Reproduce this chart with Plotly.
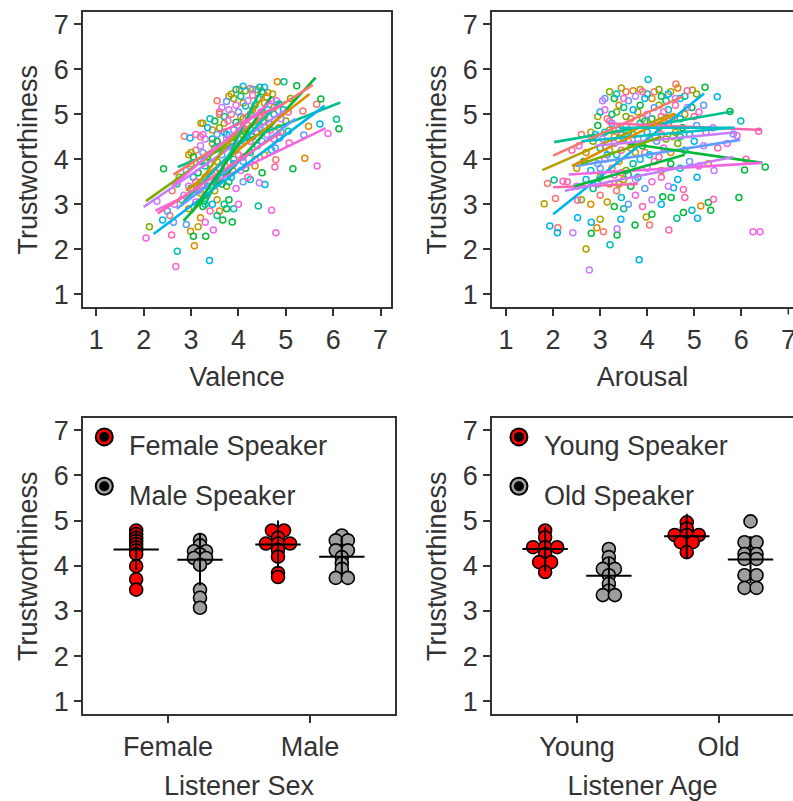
import plotly.graph_objects as go

# ---------------- DATA ----------------
PALETTE = ["#F8766D", "#DE8C00", "#B79F00", "#7CAE00", "#00BA38", "#00C08B",
           "#00BFC4", "#00B4F0", "#619CFF", "#C77CFF", "#F564E3", "#FF64B0"]

# (valence, trustworthiness, speaker group)
valence_points = [
    (4.02,5.55,1),(4.25,5.57,0),(4.38,5.55,2),(4.50,5.50,4),(4.45,5.60,6),(4.15,5.52,3),
    (3.85,5.45,2),(4.62,5.48,1),(4.82,5.72,1),(4.96,5.72,5),(5.23,5.63,4),(4.10,5.62,7),
    (3.55,5.30,0),(3.75,5.28,8),(3.90,5.35,3),(4.05,5.40,5),(4.20,5.30,9),(4.30,5.42,11),
    (4.42,5.35,6),(4.55,5.25,2),(4.70,5.30,8),(4.85,5.22,4),(3.95,5.20,10),(4.15,5.18,7),
    (4.60,5.38,0),(5.10,5.35,3),(3.65,5.15,9),(4.35,5.20,5),(4.72,5.45,2),(3.80,5.40,1),
    (5.05,5.05,11),(3.25,4.80,2),(3.50,4.85,4),(3.70,4.95,5),(3.85,5.00,0),(4.00,5.05,8),
    (4.10,4.90,3),(4.25,5.00,6),(4.40,4.85,10),(4.55,4.95,1),(4.75,5.00,7),(4.90,4.90,9),
    (3.60,5.05,11),(3.95,4.82,4),(4.30,5.10,2),(4.65,4.80,5),(3.40,4.90,6),(4.05,4.95,0),
    (3.78,4.85,10),(5.00,4.85,3),(3.10,4.55,11),(3.20,4.50,0),(3.25,4.55,10),(3.30,4.45,9),
    (3.45,4.65,1),(3.60,4.70,3),(3.75,4.55,6),(3.90,4.65,8),(4.00,4.45,2),(4.15,4.60,4),
    (4.30,4.50,5),(4.45,4.70,7),(4.60,4.55,9),(4.75,4.45,11),(4.90,4.60,0),(3.55,4.40,4),
    (4.20,4.75,1),(3.85,4.40,5),(4.50,4.40,8),(3.35,4.70,7),(3.70,4.80,2),(2.95,4.10,1),
    (3.00,4.15,2),(3.10,4.20,0),(3.20,4.30,9),(3.35,4.05,4),(3.50,4.25,6),(3.65,4.10,8),
    (3.80,4.30,11),(3.95,4.20,3),(4.10,4.05,10),(4.25,4.15,5),(4.40,4.30,7),(4.55,4.10,2),
    (4.70,4.20,6),(3.45,4.35,1),(3.05,4.05,4),(4.05,4.35,9),(4.35,4.00,0),(3.25,4.15,8),
    (3.90,4.00,5),(2.75,3.60,3),(2.90,3.75,8),(3.00,3.90,2),(3.15,3.70,4),(3.30,3.85,6),
    (3.45,3.65,0),(3.60,3.80,10),(3.75,3.70,5),(3.90,3.90,7),(4.05,3.75,9),(4.20,3.60,11),
    (4.35,3.85,1),(4.50,3.70,4),(3.55,3.95,3),(4.10,3.95,8),(3.85,3.60,6),(2.60,3.30,0),
    (2.70,3.45,5),(2.85,3.20,9),(3.00,3.35,4),(3.10,3.50,11),(3.20,3.25,1),(3.35,3.40,7),
    (3.50,3.30,2),(3.65,3.45,4),(3.80,3.50,5),(3.95,3.35,10),(4.10,3.50,8),(3.75,3.40,3),
    (4.25,3.55,6),(3.30,3.20,0),(2.50,2.85,8),(2.65,3.00,9),(2.80,3.10,3),(2.95,2.90,1),
    (3.10,3.05,10),(3.25,2.95,4),(3.40,2.85,11),(3.55,3.10,2),(3.70,3.00,5),(3.80,3.10,4),
    (3.45,3.00,7),(3.90,2.90,6),(3.60,2.85,1),(4.00,3.00,10),(2.40,2.65,7),(2.55,2.75,0),
    (3.20,2.70,1),(3.30,2.60,10),(3.55,2.75,5),(3.75,2.90,4),(3.15,2.50,2),(2.90,2.55,8),
    (3.60,5.00,1),(3.70,4.60,7),(3.80,5.10,9),(3.95,5.55,5),(4.10,5.25,2),(4.20,4.95,11),
    (4.35,4.75,3),(4.48,5.05,0),(4.62,5.10,6),(4.80,5.30,10),(3.45,4.45,5),(3.55,4.55,8),
    (3.65,4.30,2),(3.75,4.45,9),(3.90,4.50,0),(4.00,4.75,6),(4.12,4.40,1),(4.25,4.40,10),
    (4.38,4.60,4),(4.52,4.85,3),(4.68,4.65,11),(3.30,3.60,1),(3.40,3.90,2),(3.50,3.50,9),
    (3.62,3.60,7),(3.72,3.85,0),(3.88,3.75,3),(4.00,4.10,11),(4.15,3.80,4),(3.20,3.95,5),
    (3.05,3.60,6),(2.95,3.40,10),(3.15,3.30,8),(3.30,3.00,5),(3.50,3.70,11),(4.30,5.55,8),
    (4.55,5.60,7),(4.75,5.15,1),(4.85,4.70,2),(4.95,5.10,6),
    (2.05,2.25,10),(2.12,2.50,3),(2.42,3.79,4),(2.28,3.07,9),(2.63,2.60,8),(2.71,1.96,6),
    (2.68,1.62,10),(2.59,2.32,11),(2.86,4.51,0),(2.98,4.47,7),(3.21,4.80,2),(2.99,2.40,1),
    (3.05,2.29,4),(3.07,2.08,1),(3.31,2.29,4),(3.39,1.75,7),(3.47,2.43,10),(3.67,2.65,4),
    (3.87,2.61,4),(4.42,2.96,5),(4.70,2.87,10),(4.79,2.37,10),(4.77,3.83,11),(4.56,3.44,7),
    (4.44,3.48,9),(5.15,3.79,4),(5.40,4.02,1),(5.66,3.85,10),(5.38,4.54,8),(5.48,4.73,1),
    (5.72,4.78,7),(5.89,4.57,10),(6.07,4.89,5),(6.12,4.68,4),(5.74,5.34,4),(5.65,5.22,0),
    (5.36,5.07,0),(5.05,4.62,5),(5.07,4.36,11),(4.87,4.47,8),(4.78,4.25,8),(4.79,3.99,0),
]

# (x0, y0, x1, y1, group) for the per-speaker fitted lines, valence panel
valence_lines = [
    (2.84,2.63,5.63,5.81,4),(2.72,3.83,6.15,5.26,5),(2.05,3.07,5.00,5.28,3),
    (2.00,2.94,5.00,5.10,9),(2.25,2.86,5.84,4.69,10),(2.21,2.34,5.82,5.19,7),
    (2.63,3.66,5.57,5.65,0),(2.90,3.30,5.50,5.45,1),(2.90,3.10,4.60,5.50,2),
    (2.80,3.00,4.90,5.30,6),(2.70,2.90,5.20,4.90,8),(2.30,2.80,4.90,4.60,11),
    (3.30,3.00,4.50,5.60,5),(3.00,2.80,4.70,5.40,4),(3.60,4.60,4.90,5.20,11),
    (2.60,3.40,4.70,5.30,10),
]

# (arousal, trustworthiness, speaker group)
arousal_points = [
    (3.05,5.30,9),(3.10,5.35,8),(3.45,5.58,2),(3.55,5.50,0),(3.70,5.52,1),(3.85,5.55,2),
    (4.00,5.45,6),(4.15,5.50,0),(4.30,5.40,4),(4.50,5.50,2),(4.65,5.58,1),(4.85,5.52,11),
    (3.30,5.35,4),(3.95,5.35,7),(4.40,5.30,5),(3.60,5.30,8),(5.05,5.45,3),(4.70,5.35,6),
    (2.95,4.95,2),(3.10,5.10,10),(3.25,5.00,5),(3.40,5.20,1),(3.55,4.95,3),(3.70,5.10,7),
    (3.85,5.20,4),(4.00,5.00,9),(4.15,5.15,8),(4.30,4.95,0),(4.45,5.10,6),(4.60,5.20,11),
    (4.80,5.00,2),(4.95,5.15,4),(5.10,5.05,10),(3.50,5.15,5),(3.90,4.90,1),(4.25,5.20,3),
    (4.70,4.90,7),(5.20,5.20,8),(3.15,4.90,0),(2.60,4.55,0),(2.80,4.60,2),(2.95,4.75,4),
    (3.10,4.60,6),(3.25,4.80,8),(3.40,4.65,10),(3.55,4.75,1),(3.70,4.55,3),(3.85,4.80,5),
    (4.00,4.60,7),(4.15,4.75,9),(4.30,4.55,11),(4.45,4.80,0),(4.60,4.60,2),(4.75,4.70,4),
    (4.90,4.55,6),(5.05,4.75,8),(5.25,4.60,10),(5.40,4.70,9),(3.30,4.50,1),(3.95,4.85,5),
    (4.55,4.50,3),(2.40,4.20,11),(2.55,4.30,10),(2.70,4.15,1),(2.85,4.40,3),(3.00,4.25,5),
    (3.15,4.10,7),(3.30,4.35,9),(3.45,4.20,11),(3.60,4.40,0),(3.75,4.15,2),(3.90,4.30,4),
    (4.05,4.10,6),(4.20,4.40,8),(4.35,4.25,10),(4.50,4.15,1),(4.65,4.35,3),(4.80,4.20,5),
    (5.00,4.40,7),(5.20,4.30,9),(5.50,4.25,11),(5.70,4.35,10),(3.50,4.45,6),(2.50,3.80,2),
    (2.65,3.95,4),(2.80,3.75,6),(2.95,3.90,8),(3.10,4.00,10),(3.25,3.80,0),(3.40,3.95,1),
    (3.55,3.75,3),(3.70,3.90,5),(3.85,4.00,7),(4.00,3.80,9),(4.15,3.95,11),(4.30,3.75,2),
    (4.50,3.90,4),(4.70,3.80,6),(4.90,3.95,8),(5.10,3.85,10),(3.45,3.70,0),(2.30,3.50,11),
    (2.50,3.40,9),(2.70,3.55,7),(2.85,3.35,5),(3.00,3.60,3),(3.20,3.45,1),(3.35,3.30,0),
    (3.50,3.55,2),(3.65,3.40,4),(3.80,3.60,6),(3.95,3.35,8),(4.10,3.50,10),(4.30,3.60,11),
    (4.45,3.40,9),(4.65,3.55,7),(3.60,3.65,5),(2.60,3.10,3),(2.80,3.00,1),(3.00,3.20,0),
    (3.15,3.05,2),(3.30,2.95,4),(3.45,3.15,6),(3.60,3.00,8),(3.75,3.20,10),(3.90,2.95,11),
    (4.10,3.10,9),(4.30,3.00,7),(3.50,2.90,5),
    (3.20,5.50,3),(3.35,5.45,6),(3.50,5.35,10),(3.75,5.40,9),(3.90,5.50,11),(4.10,5.35,1),
    (4.25,5.55,3),(4.45,5.45,7),(4.60,5.35,9),(4.80,5.40,5),(3.00,5.05,7),(3.20,4.85,11),
    (3.35,5.05,3),(3.65,4.90,0),(3.80,5.05,2),(4.10,4.90,4),(4.35,5.05,10),(4.55,4.95,1),
    (4.85,5.15,9),(5.00,4.95,11),(2.90,4.55,7),(3.05,4.45,9),(3.20,4.65,2),(3.45,4.55,4),
    (3.60,4.60,6),(3.80,4.45,8),(4.05,4.50,0),(4.25,4.70,1),(4.40,4.45,3),(4.70,4.50,5),
    (3.00,3.80,8),(3.20,4.20,3),(3.35,4.10,6),(3.65,4.25,1),(3.95,4.15,0),(4.25,4.05,11),
    (3.30,3.65,10),(3.75,3.55,9),(2.95,3.45,6),(3.40,3.45,2),
    (1.81,3.01,2),(1.88,3.46,0),(1.93,2.52,7),(2.09,2.37,7),(2.02,3.54,5),(2.05,3.13,0),
    (2.10,2.48,0),(2.21,3.51,11),(2.42,2.37,9),(2.52,2.70,7),(2.52,3.09,11),(2.70,2.01,2),
    (2.77,1.54,9),(2.81,2.36,4),(2.81,2.60,7),(2.93,2.48,1),(3.00,2.67,2),(3.07,2.39,0),
    (3.21,2.10,6),(3.36,2.32,4),(3.36,2.46,9),(3.44,2.67,7),(3.74,2.54,4),(3.83,1.77,7),
    (3.98,2.72,2),(4.05,2.54,0),(4.10,2.78,4),(4.33,3.17,4),(4.46,2.43,11),(4.51,3.15,4),
    (4.56,3.37,7),(4.63,2.69,5),(4.77,3.33,11),(4.80,3.15,11),(4.77,2.82,4),(4.95,2.87,6),
    (5.07,2.69,7),(5.06,3.60,7),(5.14,2.96,1),(5.30,3.90,1),(5.42,3.75,9),(5.41,3.11,11),
    (5.30,3.04,4),(5.35,2.87,4),(5.49,5.39,7),(5.23,5.60,4),(5.76,5.06,4),(5.83,4.56,8),
    (5.91,4.52,10),(5.99,4.85,6),(5.95,3.15,4),(6.07,3.76,4),(6.10,4.00,11),(6.25,2.39,10),
    (6.40,2.39,10),(6.37,4.62,11),(6.51,3.83,4),(4.02,5.77,6),(4.61,5.67,0),(4.96,5.54,2),
]

arousal_lines = [
    (2.02,4.38,5.81,5.06,5),(2.00,4.08,4.75,5.39,0),(1.77,3.76,4.47,4.99,2),
    (2.00,2.78,5.21,5.46,7),(3.18,4.80,6.44,4.65,11),(2.48,3.85,5.98,4.43,8),
    (3.60,4.35,6.45,3.92,4),(2.33,3.66,6.44,3.92,10),(2.00,3.38,3.80,3.45,11),
    (2.25,3.30,5.83,4.05,9),(2.45,3.40,4.80,4.10,4),(2.60,4.40,5.80,4.70,6),
    (2.40,3.85,4.60,5.00,1),(2.90,4.30,5.90,4.60,9),(2.60,3.90,4.30,4.50,3),
    (3.40,4.70,5.86,4.70,6),
]

# Bottom panels: individual listener means (dot plots)
sex_categories = ["Female", "Male"]
sex_female_speaker = [
    [4.78, 4.70, 4.62, 4.55, 4.48, 4.41, 4.34, 4.26, 3.99, 3.70, 3.47],
    [4.78, 4.78, 4.62, 4.49, 4.49, 4.49, 4.35, 4.20, 3.84, 3.75],
]
sex_male_speaker = [
    [4.57, 4.45, 4.32, 4.32, 4.25, 4.17, 4.17, 4.02, 3.47, 3.29, 3.07],
    [4.67, 4.56, 4.56, 4.34, 4.34, 4.19, 4.05, 3.93, 3.73, 3.73],
]
sex_means_female_speaker = [4.36, 4.47]
sex_err_female_speaker = [0.45, 0.53]
sex_means_male_speaker = [4.13, 4.20]
sex_err_male_speaker = [0.57, 0.45]

age_categories = ["Young", "Old"]
age_young_speaker = [
    [4.78, 4.63, 4.41, 4.41, 4.41, 4.26, 4.08, 4.08, 3.86],
    [4.96, 4.82, 4.68, 4.68, 4.68, 4.52, 4.52, 4.30],
]
age_old_speaker = [
    [4.37, 4.19, 4.05, 3.93, 3.93, 3.79, 3.60, 3.45, 3.35, 3.35],
    [4.98, 4.52, 4.52, 4.26, 4.26, 4.15, 4.15, 3.79, 3.79, 3.51, 3.51],
]
age_means_young_speaker = [4.37, 4.65]
age_err_young_speaker = [0.50, 0.50]
age_means_old_speaker = [3.78, 4.14]
age_err_old_speaker = [0.40, 0.52]

sex_legend = ["Female Speaker", "Male Speaker"]
age_legend = ["Young Speaker", "Old Speaker"]
y_ticks = [1, 2, 3, 4, 5, 6, 7]

# ---------------- STYLE ----------------
W, H = 793, 801
FONT = "Liberation Sans, Arial, Helvetica, sans-serif"
TXT = "#333333"
AX = "#333333"
RED = "#FF0000"
GREY = "#9E9E9E"
FS = 27

def px_x(a, b):
    return [a / W, b / W]

def px_y(top, bottom):
    return [1 - bottom / H, 1 - top / H]

fig = go.Figure()

def add_scatter_panel(points, lines, xa, ya):
    groups = sorted(set(p[2] for p in points))
    for g in groups:
        xs = [p[0] for p in points if p[2] == g]
        ys = [p[1] for p in points if p[2] == g]
        fig.add_trace(go.Scatter(
            x=xs, y=ys, mode="markers", xaxis=xa, yaxis=ya, showlegend=False,
            marker=dict(symbol="circle-open", size=6, color=PALETTE[g],
                        line=dict(width=1.5, color=PALETTE[g])),
            hoverinfo="skip"))
    for (x0, y0, x1, y1, g) in lines:
        fig.add_trace(go.Scatter(
            x=[x0, x1], y=[y0, y1], mode="lines", xaxis=xa, yaxis=ya,
            showlegend=False, line=dict(color=PALETTE[g], width=2.6),
            hoverinfo="skip"))

add_scatter_panel(valence_points, valence_lines, "x", "y")
add_scatter_panel(arousal_points, arousal_lines, "x2", "y2")

DODGE = 0.225
DOT_W = 0.085
HALF_MEAN = 0.16

def stack_offsets(vals):
    counts = {}
    for v in vals:
        counts[v] = counts.get(v, 0) + 1
    seen = {}
    offs = []
    for v in vals:
        k = seen.get(v, 0)
        seen[v] = k + 1
        n = counts[v]
        offs.append((k - (n - 1) / 2) * DOT_W)
    return offs

def add_dot_panel(first, second, m1, e1, m2, e2, xa, ya):
    for series, color, shift in ((first, RED, -DODGE), (second, GREY, DODGE)):
        xs, ys = [], []
        for ci, vals in enumerate(series):
            offs = stack_offsets(vals)
            for v, o in zip(vals, offs):
                xs.append(ci + 1 + shift + o)
                ys.append(v)
        fig.add_trace(go.Scatter(
            x=xs, y=ys, mode="markers", xaxis=xa, yaxis=ya, showlegend=False,
            marker=dict(symbol="circle", size=13, color=color,
                        line=dict(width=1.6, color="black")),
            hoverinfo="skip"))
    for means, errs, shift in ((m1, e1, -DODGE), (m2, e2, DODGE)):
        lx, ly = [], []
        for ci, (m, e) in enumerate(zip(means, errs)):
            c = ci + 1 + shift
            lx += [c - HALF_MEAN, c + HALF_MEAN, None, c, c, None]
            ly += [m, m, None, m - e, m + e, None]
        fig.add_trace(go.Scatter(
            x=lx, y=ly, mode="lines", xaxis=xa, yaxis=ya, showlegend=False,
            line=dict(color="black", width=2), hoverinfo="skip"))

add_dot_panel(sex_female_speaker, sex_male_speaker,
              sex_means_female_speaker, sex_err_female_speaker,
              sex_means_male_speaker, sex_err_male_speaker, "x3", "y3")
add_dot_panel(age_young_speaker, age_old_speaker,
              age_means_young_speaker, age_err_young_speaker,
              age_means_old_speaker, age_err_old_speaker, "x4", "y4")

# legend keys drawn inside the bottom panels
def add_legend(labels, key_x, text_x, xa, ya):
    key_y = [6.85, 5.76]
    text_y = [6.65, 5.55]
    for lab, col, ky, ty in zip(labels, [RED, GREY], key_y, text_y):
        for size, c in ((19, "black"), (15, col), (10, "black")):
            fig.add_trace(go.Scatter(
                x=[key_x], y=[ky], mode="markers", xaxis=xa, yaxis=ya,
                showlegend=False, hoverinfo="skip",
                marker=dict(symbol="circle", size=size, color=c,
                            line=dict(width=0))))
        fig.add_annotation(x=text_x, y=ty, xref=xa, yref=ya, text=lab,
                           showarrow=False, xanchor="left", yanchor="middle",
                           font=dict(family=FONT, size=FS, color=TXT))

add_legend(sex_legend, 0.55, 0.71, "x3", "y3")
add_legend(age_legend, 0.59, 0.75, "x4", "y4")

# the last Arousal tick label sits at the (cropped) right edge of the figure
fig.add_annotation(x=7, xref="x2", y=1 - 340 / H, yref="paper", text="7",
                   showarrow=False, xanchor="center", yanchor="middle",
                   font=dict(family=FONT, size=FS, color=TXT))

def axis_common(**kw):
    d = dict(showgrid=False, zeroline=False, showline=True, linecolor=AX,
             linewidth=1.6, ticks="outside", ticklen=7, tickwidth=1.6,
             tickcolor=AX, tickfont=dict(family=FONT, size=FS, color=TXT),
             title_font=dict(family=FONT, size=FS, color=TXT))
    d.update(kw)
    return d

yd_top = px_y(10, 307)
yd_bot = px_y(418, 716)
YR = [0.71, 7.27]
XSTAND = 13

fig.update_layout(
    width=W, height=H, margin=dict(l=0, r=0, t=0, b=0),
    paper_bgcolor="white", plot_bgcolor="white", showlegend=False,
    xaxis=axis_common(domain=px_x(83, 391), range=[0.72, 7.22], tickvals=y_ticks,
                      mirror=True, anchor="y", title=dict(text="Valence", standoff=XSTAND)),
    yaxis=axis_common(domain=yd_top, range=YR, tickvals=y_ticks, mirror=True,
                      anchor="x", title=dict(text="Trustworthiness", standoff=8)),
    xaxis2=axis_common(domain=px_x(492, 793), range=[0.7, 7.1], tickvals=y_ticks[:-1],
                       mirror=True, anchor="y2", title=dict(text="Arousal", standoff=XSTAND)),
    yaxis2=axis_common(domain=yd_top, range=YR, tickvals=y_ticks, mirror=False,
                       anchor="x2", title=dict(text="Trustworthiness", standoff=8)),
    xaxis3=axis_common(domain=px_x(83, 395), range=[0.4, 2.6], tickvals=[1, 2],
                       ticktext=sex_categories, mirror=True, anchor="y3",
                       title=dict(text="Listener Sex", standoff=XSTAND + 3)),
    yaxis3=axis_common(domain=yd_bot, range=YR, tickvals=y_ticks, mirror=True,
                       anchor="x3", title=dict(text="Trustworthiness", standoff=8)),
    xaxis4=axis_common(domain=px_x(492, 793), range=[0.4, 2.525], tickvals=[1, 2],
                       ticktext=age_categories, mirror=True, anchor="y4",
                       title=dict(text="Listener Age", standoff=XSTAND + 3)),
    yaxis4=axis_common(domain=yd_bot, range=YR, tickvals=y_ticks, mirror=False,
                       anchor="x4", title=dict(text="Trustworthiness", standoff=8)),
)

# tick mark for x = 7 on the cropped Arousal axis
fig.add_shape(type="line", xref="x2", yref="paper", x0=7, x1=7,
              y0=1 - 307 / H, y1=1 - 314 / H, line=dict(color=AX, width=1.6))

fig.write_html("out.html")
